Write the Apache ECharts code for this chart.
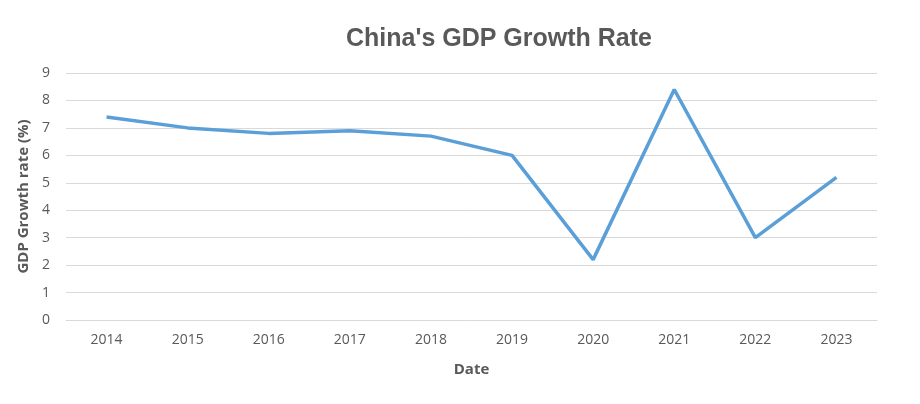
<!DOCTYPE html>
<html><head><meta charset="utf-8">
<script src="https://cdn.jsdelivr.net/npm/echarts@6/dist/echarts.min.js"></script>
<style>html,body{margin:0;padding:0;background:#fff}#c{width:920px;height:404px}</style>
</head><body><div id="c"></div>
<script>
const categories = ['2014','2015','2016','2017','2018','2019','2020','2021','2022','2023'];
const growth = [7.4, 7.0, 6.8, 6.9, 6.7, 6.0, 2.2, 8.4, 3.0, 5.2];
const yTicks = [0, 9, 1];
const chart = echarts.init(document.getElementById('c'));
chart.setOption({
  animation: false,
  title: {text: "China's GDP Growth Rate", left: 494, top: 22, textAlign: 'center',
    textStyle: {fontFamily: 'Liberation Sans, Arial', fontSize: 25, fontWeight: 'bold', color: '#595959'}},
  grid: {left: 66, right: 43, top: 73, bottom: 84},
  xAxis: {type: 'category', data: categories, boundaryGap: true,
    name: 'Date', nameLocation: 'middle', nameGap: 42,
    nameTextStyle: {fontFamily: 'Open Sans', fontSize: 15, fontWeight: 'bold', color: '#595959'},
    axisLine: {lineStyle: {color: '#d9d9d9', width: 1}}, axisTick: {show: false},
    axisLabel: {fontFamily: 'Open Sans', fontSize: 14, color: '#595959', margin: 13}},
  yAxis: {type: 'value', min: yTicks[0], max: yTicks[1], interval: yTicks[2],
    name: 'GDP Growth rate (%)', nameLocation: 'middle', nameGap: 35,
    nameTextStyle: {fontFamily: 'Open Sans', fontSize: 15, fontWeight: 'bold', color: '#595959'},
    axisLine: {show: false}, axisTick: {show: false},
    axisLabel: {fontFamily: 'Open Sans', fontSize: 14, color: '#595959', margin: 16},
    splitLine: {lineStyle: {color: '#d9d9d9', width: 1}}},
  series: [{type: 'line', data: growth, symbol: 'none', smooth: false,
    lineStyle: {color: '#5b9fd8', width: 3.5}}]
});
</script></body></html>
